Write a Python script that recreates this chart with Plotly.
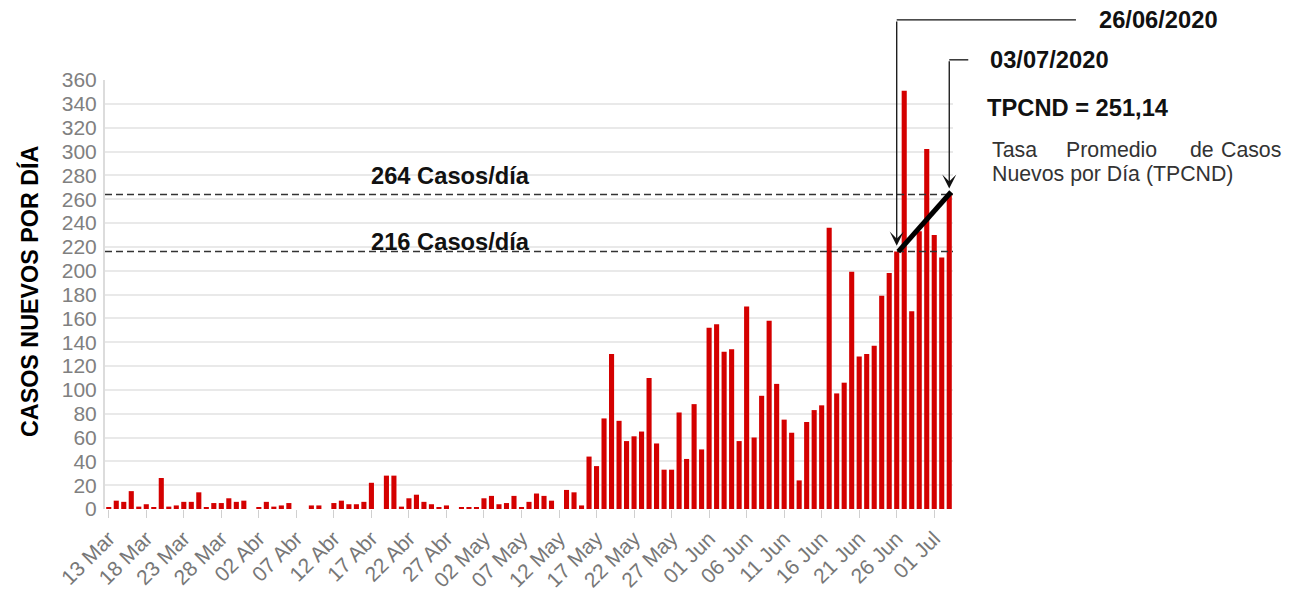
import pandas as pd
import plotly.graph_objects as go

# ---- data ----
start_date = "2020-03-13"
cases = [
    1, 7, 6, 15, 2, 4, 1, 26, 2, 3, 6, 6, 14, 1, 5, 5, 9, 6, 7,          # 13-31 Mar
    0, 1, 6, 2, 3, 5, 0, 0, 3, 3, 0, 5, 7, 4, 4, 6, 22, 0, 28, 28,        # 01-20 Abr
    2, 9, 12, 6, 4, 1, 3, 0, 1, 1,                                        # 21-30 Abr
    1, 9, 11, 4, 5, 11, 1, 6, 13, 11, 7, 0, 16, 14, 3, 44, 36, 76, 130,   # 01-19 May
    74, 57, 61, 65, 110, 55, 33, 33, 81, 42, 88, 50,                      # 20-31 May
    152, 155, 132, 134, 57, 170, 60, 95, 158, 105, 75, 64, 24, 73, 83,    # 01-15 Jun
    87, 236, 97, 106, 199, 128, 130, 137, 179, 198, 216, 351, 166, 233,   # 16-29 Jun
    302, 230, 211, 264,                                                   # 30 Jun-03 Jul
]
tick_labels = ["13 Mar", "18 Mar", "23 Mar", "28 Mar", "02 Abr", "07 Abr", "12 Abr",
               "17 Abr", "22 Abr", "27 Abr", "02 May", "07 May", "12 May", "17 May",
               "22 May", "27 May", "01 Jun", "06 Jun", "11 Jun", "16 Jun", "21 Jun",
               "26 Jun", "01 Jul"]
ref_levels = [264, 216]
ref_labels = ["264 Casos/día", "216 Casos/día"]
date_a, date_b = "2020-06-26", "2020-07-03"
value_a, value_b = 216, 264

dates = pd.date_range(start_date, periods=len(cases), freq="D")
tickvals = dates[::5]

x_lo = dates[0] - pd.Timedelta(hours=12)
x_hi = dates[-1] + pd.Timedelta(hours=12)
Y_MAX = 360


def px(d):
    d = pd.Timestamp(d)
    return (d - x_lo) / (x_hi - x_lo)


FONT = "Liberation Sans, Arial, sans-serif"
RED = "#d40000"
BOLD_SIZE = 23.7

fig = go.Figure()
fig.add_trace(go.Bar(x=dates, y=cases, marker=dict(color=RED, line=dict(width=0)),
                     showlegend=False, hoverinfo="x+y"))

shapes = []
annotations = []

# reference dashed lines + labels
yshifts = [18, 10]
for lvl, lab, ys in zip(ref_levels, ref_labels, yshifts):
    shapes.append(dict(type="line", xref="paper", yref="y", x0=0, x1=1, y0=lvl, y1=lvl,
                       line=dict(color="#333333", width=1.5, dash="7px,4px")))
    annotations.append(dict(text=f"<b>{lab}</b>", xref="paper", yref="y", x=0.311, y=lvl,
                            xanchor="left", yanchor="middle", yshift=ys, showarrow=False,
                            font=dict(family=FONT, size=BOLD_SIZE, color="#111111")))

# bracket lines for dates
top_a = 1.14
top_b = 1.047
shapes.append(dict(type="line", xref="paper", yref="paper", x0=px(date_a), x1=1.145,
                   y0=top_a, y1=top_a, line=dict(color="#111111", width=1.3)))
shapes.append(dict(type="line", xref="paper", yref="paper", x0=px(date_b), x1=1.018,
                   y0=top_b, y1=top_b, line=dict(color="#111111", width=1.3)))

# vertical arrows
annotations.append(dict(text="", x=date_a, y=value_a + 5, xref="x", yref="y",
                        ax=date_a, ay=top_a * Y_MAX, axref="x", ayref="y",
                        showarrow=True, arrowhead=3, arrowsize=1.8, arrowwidth=1.3,
                        arrowcolor="#111111"))
annotations.append(dict(text="", x=date_b, y=value_b + 5, xref="x", yref="y",
                        ax=date_b, ay=top_b * Y_MAX, axref="x", ayref="y",
                        showarrow=True, arrowhead=3, arrowsize=1.8, arrowwidth=1.3,
                        arrowcolor="#111111"))

# thick trend line
shapes.append(dict(type="line", xref="x", yref="y",
                   x0=pd.Timestamp(date_a) + pd.Timedelta(hours=5), y0=value_a,
                   x1=pd.Timestamp(date_b) + pd.Timedelta(hours=6), y1=value_b + 2,
                   line=dict(color="#000000", width=5)))

# right-hand texts
annotations += [
    dict(text="<b>26/06/2020</b>", xref="paper", yref="paper", x=1.170, y=top_a,
         xanchor="left", yanchor="middle", showarrow=False,
         font=dict(family=FONT, size=BOLD_SIZE, color="#111111")),
    dict(text="<b>03/07/2020</b>", xref="paper", yref="paper", x=1.041, y=top_b,
         xanchor="left", yanchor="middle", showarrow=False,
         font=dict(family=FONT, size=BOLD_SIZE, color="#111111")),
    dict(text="<b>TPCND = 251,14</b>", xref="paper", yref="paper", x=1.038, y=0.935,
         xanchor="left", yanchor="middle", showarrow=False,
         font=dict(family=FONT, size=BOLD_SIZE, color="#111111")),
]
for word, xp, anc in zip(["Tasa", "Promedio", "de", "Casos"],
                         [1.0436, 1.131, 1.277, 1.389],
                         ["left", "left", "left", "right"]):
    annotations.append(dict(text=word, xref="paper", yref="paper", x=xp, y=0.837,
                            xanchor=anc, yanchor="middle", showarrow=False,
                            font=dict(family=FONT, size=21.3, color="#333333")))
annotations.append(dict(text="Nuevos por Día (TPCND)", xref="paper", yref="paper",
                        x=1.0436, y=0.781, xanchor="left", yanchor="middle",
                        showarrow=False, font=dict(family=FONT, size=21.3, color="#333333")))

# y axis title
annotations.append(dict(text="<b>CASOS NUEVOS POR DÍA</b>", xref="paper", yref="paper",
                        x=-0.0884, y=0.506, textangle=-90, showarrow=False,
                        xanchor="center", yanchor="middle",
                        font=dict(family=FONT, size=23.3, color="#000000")))

fig.update_layout(
    width=1285, height=583,
    margin=dict(l=97, r=340, t=72, b=82),
    paper_bgcolor="white", plot_bgcolor="white",
    bargap=0.32,
    font=dict(family=FONT),
    shapes=shapes, annotations=annotations,
    xaxis=dict(type="date", range=[x_lo, x_hi], tickvals=tickvals, ticktext=tick_labels,
               tickangle=-45, ticks="outside", ticklen=8, tickcolor="#d0d0d0",
               tickfont=dict(family=FONT, size=21, color="#777777"),
               showgrid=False, showline=False, zeroline=False, automargin=False),
    yaxis=dict(range=[0, Y_MAX], dtick=20, tickfont=dict(family=FONT, size=21, color="#808080"),
               gridcolor="#e9e9e9", gridwidth=2, showline=True, linecolor="#dcdcdc",
               linewidth=2, zeroline=False, ticks="", ticklabelstandoff=2,
               automargin=False),
)

fig.write_html("out.html")
